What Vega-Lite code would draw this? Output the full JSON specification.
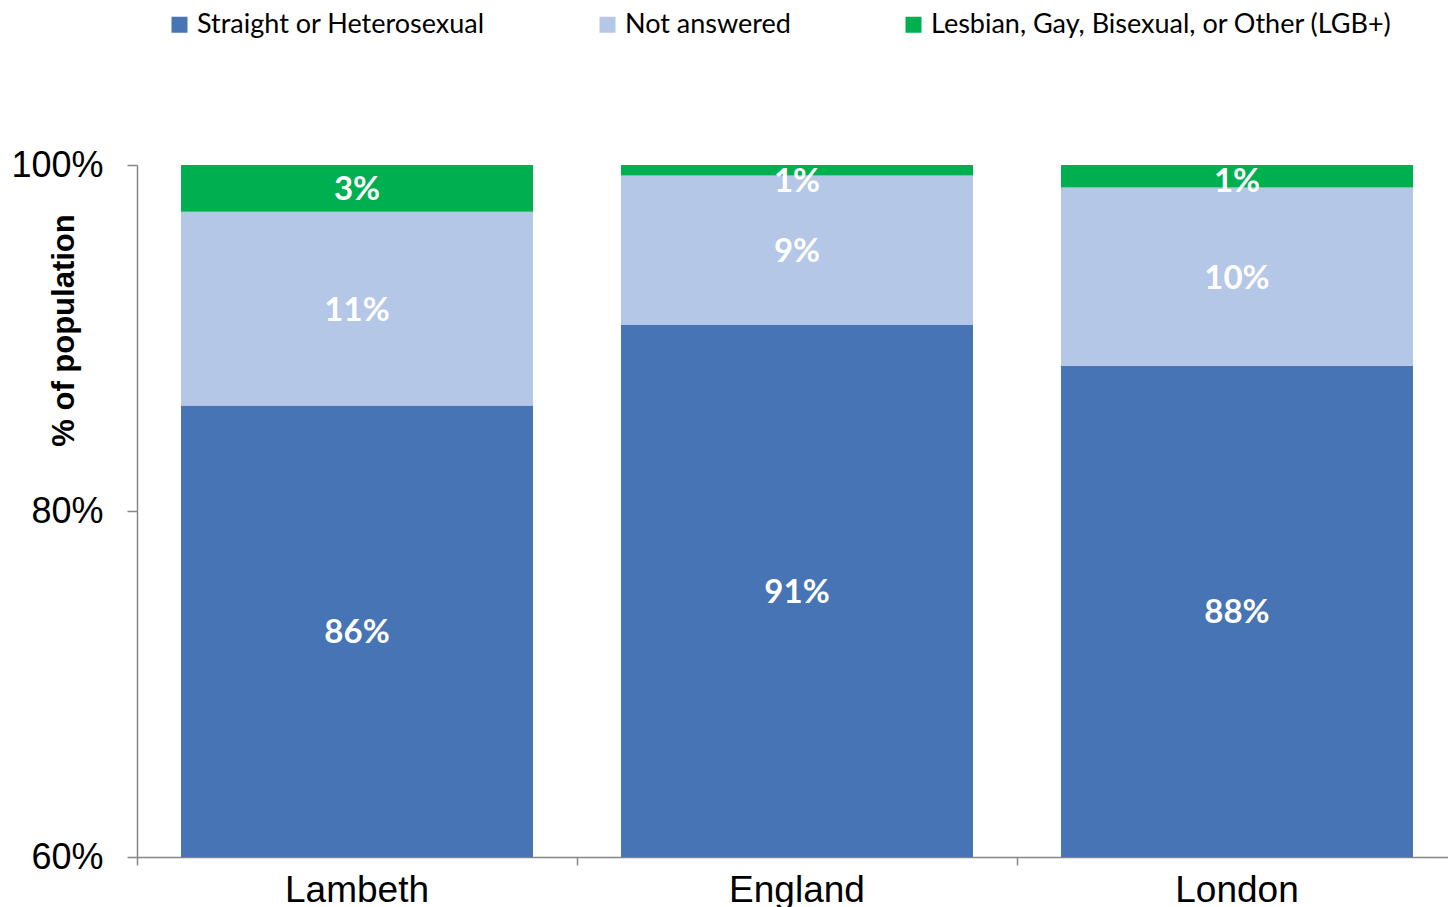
{
  "$schema": "https://vega.github.io/schema/vega-lite/v6.json",
  "width": 1311,
  "height": 692,
  "autosize": {"type": "none"},
  "padding": {"left": 137, "top": 165, "right": 0, "bottom": 50},
  "config": {"view": {"stroke": null}, "font": "Liberation Sans"},
  "data": {
    "values": [
      {"area": "Lambeth", "group": "Straight or Heterosexual", "order": 1, "share": 0.861},
      {"area": "Lambeth", "group": "Not answered", "order": 2, "share": 0.112},
      {"area": "Lambeth", "group": "Lesbian, Gay, Bisexual, or Other (LGB+)", "order": 3, "share": 0.027},
      {"area": "England", "group": "Straight or Heterosexual", "order": 1, "share": 0.9075},
      {"area": "England", "group": "Not answered", "order": 2, "share": 0.0865},
      {"area": "England", "group": "Lesbian, Gay, Bisexual, or Other (LGB+)", "order": 3, "share": 0.006},
      {"area": "London", "group": "Straight or Heterosexual", "order": 1, "share": 0.884},
      {"area": "London", "group": "Not answered", "order": 2, "share": 0.103},
      {"area": "London", "group": "Lesbian, Gay, Bisexual, or Other (LGB+)", "order": 3, "share": 0.013}
    ]
  },
  "transform": [
    {"stack": "share", "groupby": ["area"], "sort": [{"field": "order", "order": "ascending"}], "as": ["s0", "s1"]},
    {"calculate": "min((max(datum.s0, 0.6) + datum.s1) / 2, 0.9913)", "as": "mid"}
  ],
  "encoding": {
    "x": {
      "field": "area",
      "type": "nominal",
      "sort": ["Lambeth", "England", "London"],
      "scale": {"paddingInner": 0.2, "paddingOuter": 0.0898, "align": 0.557},
      "axis": {
        "title": null,
        "labelAngle": 0,
        "labelFontSize": 37,
        "labelColor": "#000000",
        "labelPadding": 7,
        "bandPosition": -0.125,
        "tickSize": 8,
        "tickColor": "#868686",
        "tickWidth": 1.5,
        "domainColor": "#868686",
        "domainWidth": 1.5
      }
    }
  },
  "layer": [
    {
      "mark": {"type": "bar"},
      "encoding": {
        "y": {
          "field": "s0",
          "type": "quantitative",
          "title": "% of population",
          "scale": {"domain": [0.6, 1], "clamp": true, "nice": false, "zero": false},
          "axis": {
            "values": [0.6, 0.8, 1],
            "format": ".0%",
            "grid": false,
            "labelFontSize": 36,
            "labelColor": "#000000",
            "labelPadding": 24,
            "tickSize": 10,
            "tickColor": "#868686",
            "tickWidth": 1.5,
            "domainColor": "#868686",
            "domainWidth": 1.5,
            "titleFontSize": 31,
            "titleFontWeight": "bold",
            "titleColor": "#000000",
            "titleX": -57,
            "titleY": 165,
            "titleAngle": 270,
            "titleBaseline": "bottom",
            "titleAlign": "center"
          }
        },
        "y2": {"field": "s1"},
        "color": {
          "field": "group",
          "type": "nominal",
          "scale": {
            "domain": ["Straight or Heterosexual", "Not answered", "Lesbian, Gay, Bisexual, or Other (LGB+)"],
            "range": ["#4674B5", "#B4C7E7", "#00B050"]
          },
          "legend": {
            "title": null,
            "orient": "none",
            "legendX": 29,
            "legendY": -154,
            "direction": "horizontal",
            "symbolType": "square",
            "symbolSize": 256,
            "symbolStrokeWidth": 0,
            "labelFont": "Lato",
            "labelFontSize": 27,
            "labelColor": "#000000",
            "labelOffset": 4,
            "columnPadding": 109,
            "labelLimit": 600
          }
        }
      }
    },
    {
      "mark": {"type": "text", "font": "Lato", "fontWeight": "bold", "fontSize": 33, "color": "#FFFFFF", "align": "center", "baseline": "middle", "dy": 2},
      "encoding": {
        "y": {"field": "mid", "type": "quantitative", "title": "% of population"},
        "text": {"field": "share", "type": "quantitative", "format": ".0%"}
      }
    }
  ]
}
